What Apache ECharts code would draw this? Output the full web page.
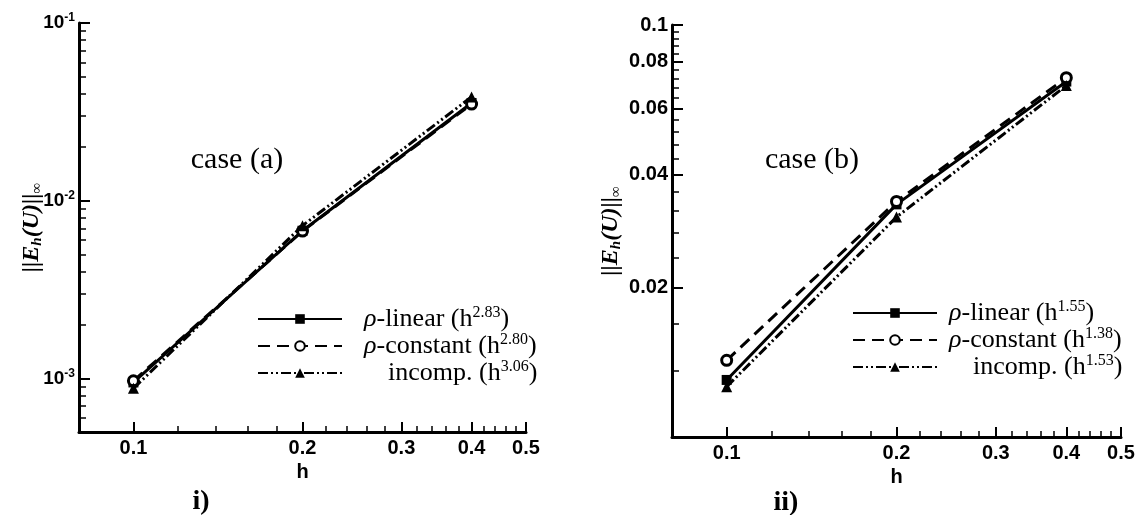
<!DOCTYPE html>
<html><head><meta charset="utf-8">
<script src="https://cdn.jsdelivr.net/npm/echarts@6/dist/echarts.min.js"></script>
<style>html,body{margin:0;padding:0;background:#fff}#c{width:1140px;height:515px}</style>
</head><body><div id="c"></div>
<script>
// ---- data ----
const hValues = [0.1, 0.2, 0.4];
const caseA_linear   = [0.00095, 0.00678, 0.0355];
const caseA_constant = [0.00097, 0.00675, 0.0350];
const caseA_incomp   = [0.00088, 0.00724, 0.0384];
const caseB_linear   = [0.01135, 0.0333, 0.0707];
const caseB_constant = [0.0128, 0.0339, 0.0724];
const caseB_incomp   = [0.01089, 0.0308, 0.0690];
const orderA = ['2.83', '2.80', '3.06'];
const orderB = ['1.55', '1.38', '1.53'];
const xMajorTicks = [0.1, 0.2, 0.3, 0.4, 0.5];
const xMinorTicks = [0.12, 0.14, 0.16, 0.18, 0.22, 0.24, 0.26, 0.28, 0.32, 0.34, 0.36, 0.38, 0.42, 0.44, 0.46, 0.48];
const yAMajorTicks = [0.001, 0.01, 0.1];
const yAMinorTicks = [0.0005, 0.0006, 0.0007, 0.0008, 0.0009, 0.002, 0.003, 0.004, 0.005, 0.006, 0.007, 0.008, 0.009, 0.02, 0.03, 0.04, 0.05, 0.06, 0.07, 0.08, 0.09];
const yBMajorTicks = [0.02, 0.04, 0.06, 0.08, 0.1];
const yBMinorTicks = [0.008, 0.012, 0.016, 0.024, 0.028, 0.032, 0.036, 0.044, 0.048, 0.052, 0.056, 0.064, 0.068, 0.072, 0.076, 0.084, 0.088, 0.092, 0.096];
const seriesNames = ['linear', 'constant', 'incomp'];

// ---- styles ----
const SERIF = 'Liberation Serif';
const SANS = 'Liberation Sans';
const styles = {
  linear:   { symbol: 'rect', symbolSize: 10, itemStyle: { color: '#000' }, lineStyle: { color: '#000', width: 3, type: 'solid' } },
  constant: { symbol: 'circle', symbolSize: 10, itemStyle: { color: '#fff', borderColor: '#000', borderWidth: 3 }, lineStyle: { color: '#000', width: 3, type: [12, 7] } },
  incomp:   { symbol: 'triangle', symbolSize: 11, itemStyle: { color: '#000' }, lineStyle: { color: '#000', width: 3, type: [10, 3, 2, 3, 2, 3] } }
};

function mkSeries(name, kind, vals, xi, yi) {
  const s = styles[kind];
  return {
    type: 'line', name: name, xAxisIndex: xi, yAxisIndex: yi,
    data: hValues.map((h, i) => [h, vals[i]]),
    symbol: s.symbol, symbolSize: s.symbolSize, itemStyle: s.itemStyle, lineStyle: s.lineStyle,
    showSymbol: true, animation: false, z: 3
  };
}

const legendRich = (gap, gapInc) => ({
  g: { width: gap, fontSize: 26, lineHeight: 28 },
  gi: { width: gapInc, fontSize: 26, lineHeight: 28 },
  rho: { fontFamily: SERIF, fontStyle: 'italic', fontSize: 26, lineHeight: 28, color: '#000', verticalAlign: 'middle' },
  t: { fontFamily: SERIF, fontSize: 26, lineHeight: 28, color: '#000', verticalAlign: 'middle' },
  sup: { fontFamily: SERIF, fontSize: 16, lineHeight: 16, color: '#000', verticalAlign: 'top' }
});
function legendFormatter(orders) {
  return function (name) {
    const kind = name.split('_')[1];
    if (kind === 'linear') return '{g| }{rho|ρ}{t|-linear (h}{sup|' + orders[0] + '}{t|)}';
    if (kind === 'constant') return '{g| }{rho|ρ}{t|-constant (h}{sup|' + orders[1] + '}{t|)}';
    return '{gi| }{t|incomp. (h}{sup|' + orders[2] + '}{t|)}';
  };
}

function xAxes(grid) {
  const common = { type: 'log', gridIndex: grid, min: 0.08, max: 0.5, position: 'bottom', splitLine: { show: false } };
  return [
    Object.assign({}, common, {
      name: 'h', nameLocation: 'middle', nameGap: 30,
      nameTextStyle: { fontFamily: SANS, fontWeight: 'bold', fontSize: 20, color: '#000' },
      axisLine: { show: true, lineStyle: { color: '#000', width: 3 } },
      axisTick: { show: true, inside: true, length: 10, customValues: xMajorTicks, lineStyle: { color: '#000', width: 2 } },
      axisLabel: { show: true, margin: 6, customValues: xMajorTicks, fontFamily: SANS, fontWeight: 'bold', fontSize: 20, color: '#000', formatter: v => String(+v.toFixed(2)) }
    }),
    Object.assign({}, common, {
      axisLine: { show: false },
      axisTick: { show: true, inside: true, length: 6, customValues: xMinorTicks, lineStyle: { color: '#000', width: 1.5 } },
      axisLabel: { show: false }
    })
  ];
}

const yNameRich = {
  n: { fontFamily: SERIF, fontStyle: 'italic', fontWeight: 'bold', fontSize: 24, lineHeight: 26, color: '#000', verticalAlign: 'middle' },
  sub: { fontFamily: SERIF, fontStyle: 'italic', fontWeight: 'bold', fontSize: 15, lineHeight: 15, color: '#000', verticalAlign: 'bottom' }
};
const yName = '{n|||E}{sub|h}{n|(U)||}{sub|∞}';

function yAxes(grid, min, major, minor, nameGap, fmt, rich) {
  const common = { type: 'log', gridIndex: grid, min: min, max: 0.1, position: 'left', splitLine: { show: false } };
  return [
    Object.assign({}, common, {
      name: yName, nameLocation: 'middle', nameGap: nameGap, nameMoveOverlap: false,
      nameTextStyle: { rich: yNameRich },
      axisLine: { show: true, lineStyle: { color: '#000', width: 3 } },
      axisTick: { show: true, inside: true, length: 11, customValues: major, lineStyle: { color: '#000', width: 2 } },
      axisLabel: { show: true, margin: 4, customValues: major, fontFamily: SANS, fontWeight: 'bold', fontSize: 20, color: '#000', formatter: fmt, rich: rich }
    }),
    Object.assign({}, common, {
      axisLine: { show: false },
      axisTick: { show: true, inside: true, length: 7, customValues: minor, lineStyle: { color: '#000', width: 1.5 } },
      axisLabel: { show: false }
    })
  ];
}

const powRich = {
  b: { fontFamily: SANS, fontWeight: 'bold', fontSize: 19, lineHeight: 22, color: '#000', verticalAlign: 'middle' },
  s: { fontFamily: SANS, fontWeight: 'bold', fontSize: 12, lineHeight: 12, color: '#000', verticalAlign: 'top' }
};
const powFmt = v => '{b|10}{s|' + Math.round(Math.log10(v)) + '}';
const decFmt = v => String(+(+v).toFixed(3));

const chart = echarts.init(document.getElementById('c'), null, { renderer: 'canvas' });
chart.setOption({
  animation: false,
  backgroundColor: '#fff',
  grid: [
    { left: 79, top: 23, width: 447, height: 409, outerBoundsMode: 'none', containLabel: false },
    { left: 672, top: 25, width: 449, height: 412, outerBoundsMode: 'none', containLabel: false }
  ],
  xAxis: xAxes(0).concat(xAxes(1)),
  yAxis: yAxes(0, 0.0005, yAMajorTicks, yAMinorTicks, 34, powFmt, powRich)
    .concat(yAxes(1, 0.008, yBMajorTicks, yBMinorTicks, 48, decFmt, null)),
  legend: [
    { orient: 'vertical', left: 257, top: 305, padding: 0, itemGap: 0, itemWidth: 84, itemHeight: 12,
      data: seriesNames.map(k => 'A_' + k), formatter: legendFormatter(orderA),
      lineStyle: { width: 2 }, textStyle: { rich: legendRich(17, 41) }, selectedMode: false },
    { orient: 'vertical', left: 852, top: 299, padding: 0, itemGap: 0, itemWidth: 84, itemHeight: 12,
      data: seriesNames.map(k => 'B_' + k), formatter: legendFormatter(orderB),
      lineStyle: { width: 2 }, textStyle: { rich: legendRich(7, 31) }, selectedMode: false }
  ],
  graphic: [
    { type: 'text', x: 237, y: 160, style: { text: 'case (a)', font: '30px "Liberation Serif"', fill: '#000', align: 'center', verticalAlign: 'middle', textAlign: 'center', textVerticalAlign: 'middle' } },
    { type: 'text', x: 812, y: 160, style: { text: 'case (b)', font: '30px "Liberation Serif"', fill: '#000', align: 'center', verticalAlign: 'middle', textAlign: 'center', textVerticalAlign: 'middle' } },
    { type: 'text', x: 201, y: 502, style: { text: 'i)', font: 'bold 28px "Liberation Serif"', fill: '#000', align: 'center', verticalAlign: 'middle', textAlign: 'center', textVerticalAlign: 'middle' } },
    { type: 'text', x: 786, y: 503, style: { text: 'ii)', font: 'bold 28px "Liberation Serif"', fill: '#000', align: 'center', verticalAlign: 'middle', textAlign: 'center', textVerticalAlign: 'middle' } }
  ],
  series: [
    mkSeries('A_linear', 'linear', caseA_linear, 0, 0),
    mkSeries('A_constant', 'constant', caseA_constant, 0, 0),
    mkSeries('A_incomp', 'incomp', caseA_incomp, 0, 0),
    mkSeries('B_linear', 'linear', caseB_linear, 2, 2),
    mkSeries('B_constant', 'constant', caseB_constant, 2, 2),
    mkSeries('B_incomp', 'incomp', caseB_incomp, 2, 2)
  ]
});
</script></body></html>
